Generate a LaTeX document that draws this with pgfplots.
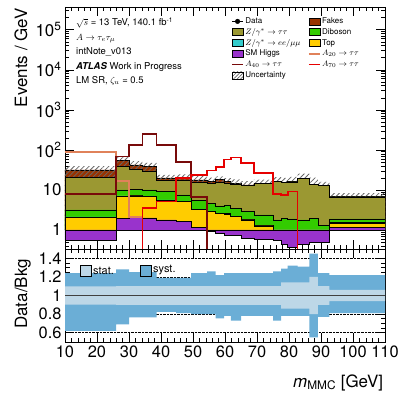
\documentclass[border=0pt]{standalone}
\usepackage{pgfplots}
\pgfplotsset{compat=1.18}
\usepackage{pgfplotstable}
\usepgfplotslibrary{fillbetween}
\usetikzlibrary{patterns,patterns.meta}
\usepackage{fontspec}
\setmainfont{TeX Gyre Heros}

\definecolor{cfake}{RGB}{153,51,0}
\definecolor{cztt}{RGB}{155,152,50}
\definecolor{czll}{RGB}{51,204,204}
\definecolor{cdib}{RGB}{51,204,0}
\definecolor{ctop}{RGB}{255,204,0}
\definecolor{chiggs}{RGB}{153,51,204}
\definecolor{cAa}{RGB}{224,130,90}
\definecolor{cAb}{RGB}{120,10,10}
\definecolor{cAc}{RGB}{230,0,0}
\definecolor{cstat}{RGB}{189,215,231}
\definecolor{csyst}{RGB}{107,174,214}

% per-bin values: left bin edge, backgrounds (H=SM Higgs, T=Top, Zll, D=Diboson, Ztt, F=Fakes),
% signals, relative syst band (up, lo) and relative stat half-width
\pgfplotstableread{
x    H    T    Zll  D    Ztt  F    A20   A40   A70   up   lo    st
10   0.56 1.54 0.03 1.03 17.8 10.6 89    8     0.001 1.24 0.62  0.097
26   1.96 5.1  0.05 2.9  28   16   17    68    0.001 1.28 0.69  0.10
30   2.1  5.0  0.05 3.25 22.6 9    2.1   133   0.001 1.25 0.765 0.10
34.2 2.0  4.8  0.05 3.15 20   8    0.001 251   3.5   1.25 0.765 0.10
38.6 1.78 3.8  0.05 3.45 7.9  3    0.001 133   5.1   1.19 0.825 0.10
44.7 1.61 3.5  0.05 2.35 10   3    0.001 50    19.6  1.19 0.81  0.10
49.4 1.17 2.1  0.05 2.1  10.1 2.3  0.001 6.6   23.7  1.24 0.80  0.10
54.4 0.91 1.96 0.05 1.7  10.1 1.3  0.001 0.001 30.5  1.26 0.80  0.10
57.1 0.83 1.77 0.05 1.35 11.5 2.5  0.001 0.001 38    1.22 0.755 0.10
59.7 0.75 1.75 0.05 1.65 10.8 1.0  0.001 0.001 58    1.24 0.78  0.10
61.8 0.75 1.4  0.05 1.3  10.5 0.7  0.001 0.001 65    1.24 0.73  0.10
65   0.62 1.16 0.05 1.04 10.1 0.33 0.001 0.001 46.4  1.24 0.78  0.10
69   0.58 0.68 0.05 1.06 12.1 0.2  0.001 0.001 26    1.24 0.78  0.10
75   0.55 0.28 0.05 0.9  14.8 0.1  0.001 0.001 7.9   1.26 0.73  0.10
77.5 0.45 0.3  0.05 1.12 13.5 0.1  0.001 0.001 7.5   1.29 0.78  0.14
79.6 0.38 0.24 0.05 1.23 14   0.1  0.001 0.001 9.1   1.32 0.78  0.14
82.7 0.45 0.26 0.05 1.02 17.7 0.1  0.001 0.001 0.001 1.31 0.78  0.14
86.4 0.5  0.18 0.05 1.19 11.9 0.1  0.001 0.001 0.001 1.45 0.55  0.20
89   0.5  0.18 0.12 0.53 11.4 0.1  0.001 0.001 0.001 1.24 0.77  0.10
92.6 1.17 0.3  0.05 0.38 4.8  0.1  0.001 0.001 0.001 1.22 0.81  0.06
110  1.17 0.3  0.05 0.38 4.8  0.1  0.001 0.001 0.001 1.22 0.81  0.06
}\bins

\pgfplotsset{
  boxleg/.style={legend image code/.code={\draw[##1,draw=black,line width=0.5bp] (0bp,-3.5bp) rectangle (11bp,3.5bp);}},
  lineleg/.style={legend image code/.code={\draw[##1] (0bp,0bp) -- (11bp,0bp);}},
  dataleg/.style={legend image code/.code={\draw[black,line width=1bp] (0bp,0bp) -- (11bp,0bp); \fill[black] (5.5bp,0bp) circle (2.3bp);}},
  stk/.style={const plot, draw=black, line width=0.6bp},
  hatch/.style={const plot, draw=none, pattern={Lines[angle=45,distance=3.5bp,line width=0.8bp]}, pattern color=black!60},
  atlasaxis/.style={
    scale only axis, width=320bp,
    xmin=10, xmax=110,
    tick align=inside, xtick pos=both, ytick pos=both,
    xticklabel pos=lower, yticklabel pos=left,
    major tick length=9bp, minor tick length=4.5bp,
    tick style={black, line width=0.5bp},
    axis line style={line width=0.8bp},
    xtick={10,20,...,110}, minor x tick num=4,
    /pgf/number format/assume math mode=true,
    ticklabel style={font=\fontsize{16.5}{16.5}\selectfont},
  },
}

\begin{document}
\begin{tikzpicture}
\begin{axis}[atlasaxis,
  at={(0bp,0bp)}, anchor=south west, height=242bp,
  ymode=log, ymin=0.335, ymax=3.7e5,
  xticklabels={},
  ytick={1,10,100,1000,10000,100000},
  yticklabels={1,10,10\textsuperscript{2},10\textsuperscript{3},10\textsuperscript{4},10\textsuperscript{5}},
  yticklabel style={font=\fontsize{17}{17}\selectfont},
  minor ytick={0.4,0.5,0.6,0.7,0.8,0.9,2,3,4,5,6,7,8,9,20,30,40,50,60,70,80,90,200,300,400,500,600,700,800,900,2000,3000,4000,5000,6000,7000,8000,9000,20000,30000,40000,50000,60000,70000,80000,90000,200000,300000},
  legend columns=2,
  legend cell align=left,
  legend style={at={(axis description cs:0.519,0.963)}, anchor=north west, draw=none, fill=none,
    inner sep=0pt, font=\fontsize{8}{8}\selectfont, row sep=0.3bp,
    nodes={inner sep=1.5bp, text height=5.8bp, text depth=1.7bp},
    /tikz/every even column/.append style={column sep=6bp}},
]
\addlegendimage{dataleg}\addlegendentry{Data}
\addlegendimage{boxleg, fill=cfake}\addlegendentry{Fakes}
\addlegendimage{boxleg, fill=cztt}\addlegendentry{$Z/\gamma^{*}\rightarrow\tau\tau$}
\addlegendimage{boxleg, fill=cdib}\addlegendentry{Diboson}
\addlegendimage{boxleg, fill=czll}\addlegendentry{$Z/\gamma^{*}\rightarrow ee/\mu\mu$}
\addlegendimage{boxleg, fill=ctop}\addlegendentry{Top}
\addlegendimage{boxleg, fill=chiggs}\addlegendentry{SM Higgs}
\addlegendimage{lineleg, cAa, line width=1.6bp}\addlegendentry{$A_{20}\rightarrow\tau\tau$}
\addlegendimage{lineleg, cAb, line width=1.6bp}\addlegendentry{$A_{40}\rightarrow\tau\tau$}
\addlegendimage{lineleg, cAc, line width=1.6bp}\addlegendentry{$A_{70}\rightarrow\tau\tau$}
\addlegendimage{boxleg, pattern={Lines[angle=45,distance=2.5bp,line width=0.6bp]}, pattern color=black!60}\addlegendentry{Uncertainty}

% uncertainty hatching above the stack (upper edge = total x up)
\addplot[hatch] table[x=x, y expr=(\thisrow{H}+\thisrow{T}+\thisrow{Zll}+\thisrow{D}+\thisrow{Ztt}+\thisrow{F})*\thisrow{up}] {\bins} \closedcycle;
\addplot[stk, fill=cfake] table[x=x, y expr=\thisrow{H}+\thisrow{T}+\thisrow{Zll}+\thisrow{D}+\thisrow{Ztt}+\thisrow{F}] {\bins} \closedcycle;
% hatching over the top (fakes) layer
\addplot[hatch] table[x=x, y expr=\thisrow{H}+\thisrow{T}+\thisrow{Zll}+\thisrow{D}+\thisrow{Ztt}+\thisrow{F}] {\bins} \closedcycle;
\addplot[stk, fill=cztt] table[x=x, y expr=\thisrow{H}+\thisrow{T}+\thisrow{Zll}+\thisrow{D}+\thisrow{Ztt}] {\bins} \closedcycle;
\addplot[stk, fill=cdib] table[x=x, y expr=\thisrow{H}+\thisrow{T}+\thisrow{Zll}+\thisrow{D}] {\bins} \closedcycle;
\addplot[stk, fill=czll] table[x=x, y expr=\thisrow{H}+\thisrow{T}+\thisrow{Zll}] {\bins} \closedcycle;
\addplot[stk, fill=ctop] table[x=x, y expr=\thisrow{H}+\thisrow{T}] {\bins} \closedcycle;
\addplot[stk, fill=chiggs] table[x=x, y=H] {\bins} \closedcycle;

\addplot[const plot, cAa, line width=1.7bp] table[x=x, y=A20] {\bins};
\addplot[const plot, cAb, line width=1.7bp] table[x=x, y=A40] {\bins};
\addplot[const plot, cAc, line width=1.7bp] table[x=x, y=A70] {\bins};
\end{axis}

\begin{axis}[atlasaxis,
  at={(0bp,0bp)}, anchor=north west, height=93bp,
  ymin=0.5, ymax=1.5,
  ytick={0.6,0.8,1,1.2,1.4}, minor y tick num=3,
  ymajorgrids, grid style={densely dotted, black, line width=0.5bp},
]
\addplot[const plot, draw=none, name path=sup] table[x=x, y=up] {\bins};
\addplot[const plot, draw=none, name path=slo] table[x=x, y=lo] {\bins};
\addplot[fill=csyst, draw=none] fill between[of=sup and slo];
\addplot[const plot, draw=none, name path=tup] table[x=x, y expr=1+\thisrow{st}] {\bins};
\addplot[const plot, draw=none, name path=tlo] table[x=x, y expr=1-\thisrow{st}] {\bins};
\addplot[fill=cstat, draw=none] fill between[of=tup and tlo];
\addplot[black!75, line width=0.8bp] coordinates {(10,1) (110,1)};
\end{axis}

% labels and annotations
\node[rotate=90, anchor=base east, font=\fontsize{17}{17}\selectfont] at (-38bp,244bp) {Events / GeV};
\node[rotate=90, anchor=base, font=\fontsize{17}{17}\selectfont] at (-38bp,-45bp) {Data/Bkg};
\node[anchor=base east, font=\fontsize{17}{17}\selectfont] at (321.7bp,-138bp) {\textit{m}\textsubscript{MMC} [GeV]};

\begin{scope}[every node/.style={anchor=base west, font=\fontsize{9.5}{10}\selectfont, inner sep=0pt}]
\node at (11bp,223bp) {$\sqrt{s}$ = 13 TeV, 140.1 fb\textsuperscript{-1}};
\node at (11bp,208.3bp) {$A\rightarrow\tau_{e}\tau_{\mu}$};
\node at (11bp,194.5bp) {intNote\_v013};
\node at (11bp,179bp) {\textbf{\textit{ATLAS}} Work in Progress};
\node at (11bp,165bp) {LM SR, $\zeta_{u}$ = 0.5};
\end{scope}

% ratio legend
\node[draw=black, fill=cstat, line width=0.6bp, minimum size=11bp, inner sep=0pt] at (21bp,-21.5bp) {};
\node[anchor=west, inner sep=0pt, font=\fontsize{11}{11}\selectfont] at (28bp,-21.5bp) {stat.};
\node[draw=black, fill=csyst, line width=0.6bp, minimum size=11bp, inner sep=0pt] at (81bp,-21.5bp) {};
\node[anchor=west, inner sep=0pt, font=\fontsize{11}{11}\selectfont] at (88bp,-21.5bp) {syst.};

\path[use as bounding box] (-65bp,-141bp) rectangle (338bp,249bp);
\end{tikzpicture}
\end{document}
